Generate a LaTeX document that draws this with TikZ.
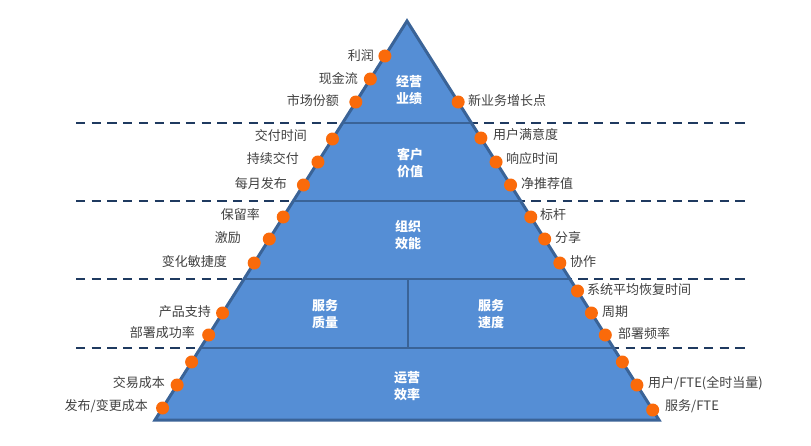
\documentclass[tikz,border=0pt]{standalone}
\usepackage{fontspec}
\setmainfont{Noto Sans CJK SC}
\usetikzlibrary{calc}
\definecolor{trifill}{HTML}{558ED5}
\definecolor{triedge}{HTML}{3A6397}
\definecolor{dashc}{HTML}{1F3A60}
\definecolor{dotc}{HTML}{FA6A0A}
\definecolor{txtc}{HTML}{404040}
\tikzset{
  dashline/.style={draw=dashc,line width=2.4pt,dash pattern=on 9.3pt off 6.4pt},
  tribody/.style={fill=trifill},
  triline/.style={draw=triedge,line width=3pt,line join=miter},
  innerline/.style={draw=triedge,line width=2pt},
  dotnode/.style={circle,fill=dotc,inner sep=0pt,minimum size=13pt},
  lbl/.style={text=txtc,inner sep=0pt,font=\fontsize{13}{15}\selectfont},
  inlbl/.style={text=white,inner sep=0pt,align=center,font=\fontsize{13}{17}\selectfont\bfseries}
}
\begin{document}
\begin{tikzpicture}[x=1pt,y=-1pt]
\useasboundingbox (0,0) rectangle (811,445);
\coordinate (A) at (407,21);
\coordinate (L) at (155,420);
\coordinate (R) at (659,420);
% dashed guide lines
\foreach \y [count=\i] in {123,201,279,348}{
  \coordinate (dl\i) at (76,\y);
  \coordinate (dr\i) at (746,\y);
  \draw[dashline] (dl\i) -- (dr\i);
}
% triangle body
\fill[tribody] (A) -- (L) -- (R) -- cycle;
% inner band lines
\foreach \y [count=\i] in {123,201,279,348}{
  \coordinate (bl\i) at ($(A)!{(\y-21)/399}!(L)$);
  \coordinate (br\i) at ($(A)!{(\y-21)/399}!(R)$);
  \draw[innerline] (bl\i) -- (br\i);
}
\coordinate (vt) at (408,279);
\coordinate (vb) at (408,348);
\draw[innerline] (vt) -- (vb);
\draw[triline] (A) -- (L) -- (R) -- cycle;
% inner labels
\node[inlbl] (t1) at (409,90) {经营\\业绩};
\node[inlbl] (t2) at (410,163) {客户\\价值};
\node[inlbl] (t3) at (408,235) {组织\\效能};
\node[inlbl] (t4a) at (325,314) {服务\\质量};
\node[inlbl] (t4b) at (491,314) {服务\\速度};
\node[inlbl] (t5) at (407,386) {运营\\效率};
% left dots
\foreach \y [count=\i] in {56,79,102,139,162,185,217,239,263,313,335,362,385,408}{
  \node[dotnode] (ld\i) at ($(A)!{(\y-21)/399}!(L)$) {};
}
% right dots
\foreach \y [count=\i] in {102,138,162,185,217,239,263,291,313,335,362,385,410}{
  \node[dotnode] (rd\i) at ($(A)!{(\y-21)/399}!(R)$) {};
}
% left labels
\foreach \t/\x/\y [count=\i] in {利润/374/56,现金流/358/79,市场份额/339/101,交付时间/307/136,持续交付/299/159,每月发布/287/184,保留率/260/215,激励/241/238,变化敏捷度/227/262,产品支持/211/312,部署成功率/195/333,交易成本/165/383,{发布/变更成本}/148/406}{
  \node[lbl,anchor=east] (ll\i) at (\x,\y) {\t};
}
% right labels
\foreach \t/\x/\y [count=\i] in {新业务增长点/468/101,用户满意度/493/135,响应时间/506/159,净推荐值/521/184,标杆/540/215,分享/555/238,协作/570/262,系统平均恢复时间/587/290,周期/602/312,部署频率/618/334,{用户/FTE(全时当量)}/648/383,{服务/FTE}/665/406}{
  \node[lbl,anchor=west] (rl\i) at (\x,\y) {\t};
}
\end{tikzpicture}
\end{document}
